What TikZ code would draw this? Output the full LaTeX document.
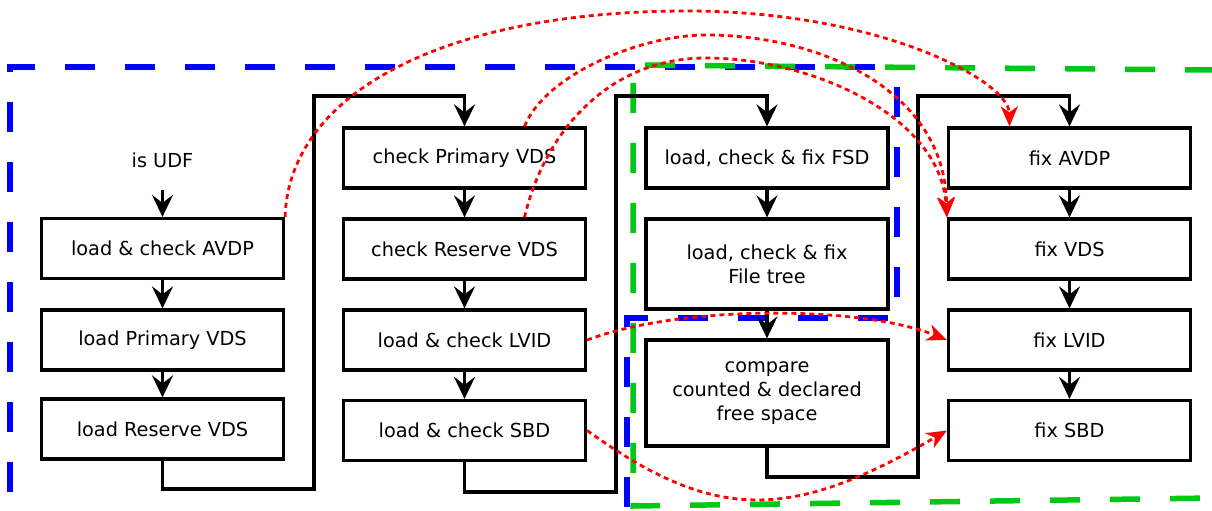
\documentclass[tikz,border=0pt]{standalone}
\usepackage{fontspec}
\setmainfont{DejaVu Sans}
\usetikzlibrary{arrows.meta}
\definecolor{zoneblue}{RGB}{0,0,255}
\definecolor{zonegreen}{RGB}{0,200,20}
\definecolor{linkred}{RGB}{255,0,0}
\begin{document}
\begin{tikzpicture}[x=1pt,y=-1pt,
  every node/.style={font=\fontsize{19.3}{24}\selectfont},
  box/.style={draw, line width=3.2pt, fill=white, minimum width=242pt,
    minimum height=60pt, inner sep=0pt, align=center},
  flow/.style={draw, line width=3.2pt, -{Stealth[length=22pt,width=21pt,inset=8pt]}},
  zone/.style={line width=5.5pt, dash pattern=on 30pt off 30pt},
  fixlink/.style={linkred, line width=2.8pt, dash pattern=on 5pt off 4pt,
    -{Stealth[length=20pt,width=17pt,inset=6pt]}}
]
\useasboundingbox (0,0) rectangle (1212,511);

% check-only zone and repair zone
\draw[zone, zoneblue, dash phase=41pt] (10,511) -- (10,67) -- (897,67);
\draw[zone, zoneblue, dash phase=40pt] (897,67) -- (897,318) -- (627,318) -- (627,511);
\draw[zone, zonegreen, dash phase=3pt] (1212,70) -- (633,65) -- (633,506) -- (1212,498);

% column 1: anchor and descriptors
\node[minimum height=60pt, inner sep=0pt] (udf) at (162.5,160) {is UDF};
\node[box] (avdp) at (162.5,248.5) {load \& check AVDP};
\node[box] (pvds) at (162.5,340) {load Primary VDS};
\node[box] (rvds) at (162.5,429) {load Reserve VDS};

% column 2: checks
\node[box] (cpvds) at (464.5,158) {check Primary VDS};
\node[box] (crvds) at (464.5,249) {check Reserve VDS};
\node[box] (lvid) at (464.5,340) {load \& check LVID};
\node[box] (sbd) at (464.5,430.5) {load \& check SBD};

% column 3: file system
\node[box] (fsd) at (767,158) {load, check \& fix FSD};
\node[box, minimum height=90pt] (tree) at (767,264) {load, check \& fix\\File tree};
\node[box, minimum height=106pt] (cmp) at (767,393) {compare\\counted \& declared\\free space};

% column 4: fixes
\node[box] (favdp) at (1069.5,158) {fix AVDP};
\node[box] (fvds) at (1069.5,249) {fix VDS};
\node[box] (flvid) at (1069.5,340) {fix LVID};
\node[box] (fsbd) at (1069.5,430.5) {fix SBD};

% turning points of the links between columns
\coordinate (up1b) at (314,489);
\coordinate (up1t) at (314,96);
\coordinate (up2b) at (616,492);
\coordinate (up2t) at (616,96);
\coordinate (up3b) at (918,477);
\coordinate (up3t) at (918,96);

% flow inside columns
\draw[flow] (udf) -- (avdp);
\draw[flow] (avdp) -- (pvds);
\draw[flow] (pvds) -- (rvds);
\draw[flow] (cpvds) -- (crvds);
\draw[flow] (crvds) -- (lvid);
\draw[flow] (lvid) -- (sbd);
\draw[flow] (fsd) -- (tree);
\draw[flow] (tree) -- (cmp);
\draw[flow] (favdp) -- (fvds);
\draw[flow] (fvds) -- (flvid);
\draw[flow] (flvid) -- (fsbd);

% flow between columns
\draw[flow] (rvds.south) |- (up1b) -- (up1t) -| (cpvds.north);
\draw[flow] (sbd.south) |- (up2b) -- (up2t) -| (fsd.north);
\draw[flow] (cmp.south) |- (up3b) -- (up3t) -| (favdp.north);

% what each check hands over to its fix
\draw[fixlink] (avdp.north east) .. controls (289,93) and (445,11) .. (687,11)
  .. controls (880,11) and (1009,81) .. ([xshift=-60pt]favdp.north);
\draw[fixlink] ([xshift=60pt]cpvds.north) .. controls (545,75) and (640,35) .. (706,35)
  .. controls (820,35) and (945,90) .. (fvds.north west);
\draw[fixlink] ([xshift=60pt]crvds.north) .. controls (545,130) and (610,58) .. (706,58)
  .. controls (810,58) and (940,115) .. (fvds.north west);
\draw[fixlink] (lvid.east) .. controls (680,305) and (860,305) .. (flvid.west);
\draw[fixlink] (sbd.east) .. controls (714,522) and (790,522) .. (fsbd.west);
\end{tikzpicture}
\end{document}
